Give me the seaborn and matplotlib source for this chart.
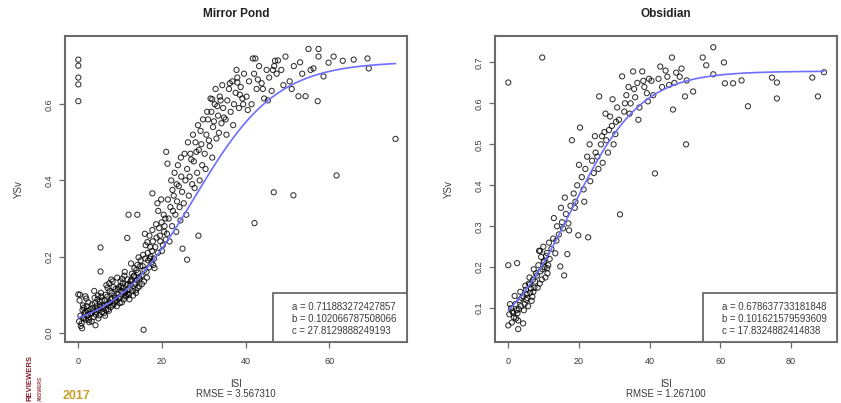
import numpy as np
import pandas as pd
import matplotlib
matplotlib.use("Agg")
import matplotlib.pyplot as plt
from matplotlib.patches import Rectangle
import seaborn as sns

# ---------------- data ----------------
# Mirror Pond: ISI vs YSv
mp_isi = [
    0.2, 0.5, 0.8, 1.0, 1.2, 1.5, 1.8, 2.0, 2.3, 2.6, 2.9, 0.3, 0.6, 1.1, 1.4, 1.7, 2.1, 2.4, 2.8, 0.9, 1.3, 1.9, 2.5, 0.4, 2.2,
    3.1, 3.4, 3.7, 4.0, 4.3, 4.6, 4.9, 5.2, 5.5, 5.8, 3.2, 3.6, 3.9, 4.2, 4.5, 4.8, 5.1, 5.4, 5.7, 3.3, 3.8, 4.4, 5.0, 5.6, 4.1, 4.7, 5.3,
    6.1, 6.3, 6.6, 6.9, 7.2, 7.5, 7.8, 8.1, 8.4, 8.7, 6.2, 6.5, 6.8, 7.1, 7.4, 7.7, 8.0, 8.3, 8.6, 8.9, 6.4, 7.0, 7.6, 8.2, 8.8, 6.7, 7.3, 7.9, 8.5,
    9.1, 9.4, 9.7, 10.0, 10.3, 10.6, 10.9, 11.2, 11.5, 11.8, 9.2, 9.5, 9.8, 10.1, 10.4, 10.7, 11.0, 11.3, 11.6, 11.9, 9.3, 9.9, 10.5, 11.1, 11.7, 9.6, 10.2, 10.8, 11.4,
    12.1, 12.4, 12.7, 13.0, 13.3, 13.6, 13.9, 14.2, 14.5, 14.8, 12.2, 12.5, 12.8, 13.1, 13.4, 13.7, 14.0, 14.3, 14.6, 14.9, 12.6, 13.2, 13.8, 14.4, 12.3, 13.5, 14.1, 14.7,
    15.1, 15.4, 15.7, 16.0, 16.3, 16.6, 16.9, 17.2, 17.5, 17.8, 15.2, 15.5, 15.8, 16.1, 16.4, 16.7, 17.0, 17.3, 17.6, 17.9, 15.9, 16.5, 17.1, 17.7,
    18.1, 18.4, 18.7, 19.0, 19.3, 19.6, 19.9, 20.2, 20.5, 20.8, 18.2, 18.6, 19.1, 19.5, 20.0, 20.4, 20.9, 18.9, 19.8, 20.6,
    21.2, 21.6, 22.0, 22.4, 22.8, 23.2, 23.6, 24.0, 24.4, 24.8, 21.4, 21.8, 22.2, 22.6, 23.0, 23.4, 23.8, 24.2, 24.6, 22.5, 23.5, 24.5,
    25.2, 25.6, 26.0, 26.4, 26.8, 27.2, 27.6, 28.0, 28.4, 28.8, 29.2, 29.6, 25.4, 25.8, 26.2, 26.6, 27.0, 27.4, 27.8, 28.2, 28.6, 29.0, 29.4, 29.8,
    30.2, 30.6, 31.0, 31.4, 31.8, 32.2, 32.6, 33.0, 33.4, 33.8, 34.2, 34.6, 30.4, 30.8, 31.2, 31.6, 32.0, 32.4, 32.8, 33.2, 33.6, 34.0, 34.4, 34.8,
    35.2, 35.6, 36.0, 36.4, 36.8, 37.2, 37.6, 38.0, 38.4, 38.8, 39.2, 39.6, 35.4, 36.2, 37.0, 37.8, 38.6, 39.4,
    40.2, 40.8, 41.4, 42.0, 42.6, 43.2, 43.8, 44.4, 45.0, 45.6, 46.2, 46.8, 47.4, 40.5, 41.7, 42.9, 44.1, 45.3, 46.5, 47.7,
    48.5, 49.5, 50.5, 51.5, 52.6, 53.5, 54.3, 55.0, 56.2, 57.2, 57.4, 58.6, 59.8, 49.0, 51.0, 53.0, 55.5,
    61.0, 63.2, 65.8, 69.1, 69.4, 57.4, 61.7, 75.8,
    0.0, 0.0, 0.0, 0.0, 0.0, 17.7, 21.0, 21.3, 32.0, 38.0, 42.3, 47.0, 46.7, 51.4, 42.1, 15.6, 14.1, 12.0, 5.3, 5.3,
    11.7, 24.9, 26.0, 28.7, 0.0, 1.7,
]
mp_ysv = [
    0.030, 0.045, 0.025, 0.060, 0.040, 0.052, 0.035, 0.070, 0.048, 0.028, 0.062, 0.085, 0.018, 0.072, 0.038, 0.055, 0.044, 0.080, 0.050, 0.012, 0.066, 0.090, 0.034, 0.100, 0.058,
    0.050, 0.065, 0.042, 0.078, 0.055, 0.088, 0.060, 0.072, 0.095, 0.064, 0.030, 0.058, 0.092, 0.048, 0.070, 0.038, 0.082, 0.105, 0.054, 0.075, 0.110, 0.062, 0.046, 0.085, 0.020, 0.098, 0.068,
    0.070, 0.085, 0.060, 0.095, 0.078, 0.110, 0.068, 0.090, 0.120, 0.082, 0.052, 0.100, 0.075, 0.062, 0.130, 0.088, 0.105, 0.072, 0.098, 0.115, 0.045, 0.118, 0.080, 0.135, 0.092, 0.125, 0.058, 0.140, 0.076,
    0.085, 0.100, 0.120, 0.095, 0.110, 0.130, 0.088, 0.105, 0.125, 0.140, 0.070, 0.115, 0.092, 0.135, 0.080, 0.118, 0.150, 0.098, 0.112, 0.128, 0.145, 0.078, 0.142, 0.160, 0.102, 0.090, 0.122, 0.108, 0.095,
    0.100, 0.125, 0.140, 0.110, 0.150, 0.128, 0.165, 0.118, 0.145, 0.175, 0.088, 0.135, 0.155, 0.098, 0.170, 0.112, 0.138, 0.158, 0.122, 0.190, 0.182, 0.148, 0.105, 0.198, 0.115, 0.132, 0.178, 0.142,
    0.150, 0.175, 0.135, 0.195, 0.160, 0.210, 0.172, 0.225, 0.185, 0.240, 0.128, 0.205, 0.165, 0.230, 0.145, 0.190, 0.255, 0.200, 0.215, 0.178, 0.260, 0.238, 0.195, 0.270,
    0.195, 0.225, 0.250, 0.210, 0.275, 0.240, 0.290, 0.230, 0.265, 0.300, 0.170, 0.285, 0.320, 0.255, 0.215, 0.310, 0.245, 0.340, 0.350, 0.280,
    0.260, 0.300, 0.330, 0.280, 0.360, 0.310, 0.345, 0.385, 0.295, 0.370, 0.350, 0.240, 0.400, 0.320, 0.420, 0.265, 0.440, 0.330, 0.410, 0.375, 0.390, 0.460,
    0.340, 0.400, 0.430, 0.360, 0.470, 0.390, 0.450, 0.500, 0.420, 0.480, 0.530, 0.440, 0.470, 0.310, 0.500, 0.410, 0.455, 0.520, 0.380, 0.475, 0.545, 0.400, 0.495, 0.560,
    0.470, 0.520, 0.560, 0.490, 0.580, 0.540, 0.600, 0.510, 0.570, 0.620, 0.550, 0.590, 0.430, 0.580, 0.505, 0.615, 0.460, 0.555, 0.640, 0.595, 0.525, 0.610, 0.650, 0.565,
    0.560, 0.610, 0.640, 0.580, 0.660, 0.600, 0.630, 0.670, 0.590, 0.645, 0.615, 0.680, 0.520, 0.655, 0.545, 0.690, 0.625, 0.600,
    0.620, 0.660, 0.600, 0.680, 0.640, 0.700, 0.655, 0.615, 0.690, 0.670, 0.635, 0.700, 0.680, 0.585, 0.720, 0.665, 0.640, 0.610, 0.690, 0.715,
    0.690, 0.725, 0.660, 0.700, 0.621, 0.680, 0.621, 0.745, 0.694, 0.608, 0.725, 0.673, 0.709, 0.650, 0.640, 0.710, 0.690,
    0.725, 0.714, 0.717, 0.720, 0.694, 0.745, 0.413, 0.509,
    0.717, 0.701, 0.670, 0.652, 0.608, 0.366, 0.475, 0.444, 0.613, 0.657, 0.720, 0.714, 0.369, 0.361, 0.288, 0.008, 0.310, 0.310, 0.224, 0.161,
    0.249, 0.221, 0.192, 0.255, 0.101, 0.096,
]

# Obsidian: ISI vs YSv
ob_isi = [
    0.3, 0.8, 1.2, 1.6, 2.0, 2.4, 2.8, 3.2, 3.6, 1.0, 1.8, 2.6, 3.4, 0.5, 2.2, 3.0, 3.8,
    4.2, 4.6, 5.0, 5.4, 5.8, 6.2, 6.6, 7.0, 7.4, 7.8, 4.4, 4.8, 5.2, 5.6, 6.0, 6.4, 6.8, 7.2, 7.6, 5.1, 6.1, 7.1,
    8.1, 8.5, 8.9, 9.3, 9.7, 10.1, 10.5, 10.9, 11.3, 11.7, 8.3, 8.7, 9.1, 9.5, 9.9, 10.3, 10.7, 11.1, 11.5, 9.0, 10.0, 11.0,
    12.2, 12.7, 13.3, 13.8, 14.3, 14.7, 15.2, 15.8, 16.3, 16.7, 17.2, 17.6, 12.9, 13.6, 14.9, 15.5, 16.0, 17.0,
    18.0, 18.5, 19.0, 19.5, 19.8, 20.3, 20.8, 21.3, 21.8, 22.3, 22.6, 23.2, 23.7, 24.2, 24.7, 18.8, 20.0, 21.5, 23.0, 24.5,
    25.2, 25.7, 26.2, 26.7, 27.2, 27.7, 28.2, 28.8, 29.3, 29.8, 30.3, 30.8, 31.3, 31.6, 25.5, 26.5, 27.5, 28.5, 29.5, 30.5,
    32.2, 32.8, 33.4, 34.0, 34.6, 35.3, 35.9, 36.5, 37.1, 37.9, 38.5, 39.2, 39.8, 33.0, 34.3, 35.6, 36.8, 38.2, 39.5,
    40.5, 41.5, 42.5, 43.5, 44.5, 45.5, 46.3, 46.6, 47.5, 48.5, 50.0, 50.3, 50.5, 52.3, 41.0, 43.0, 45.0, 47.0, 49.0,
    55.0, 56.0, 58.0, 58.0, 61.0, 61.3, 63.6, 66.0, 67.8, 74.6, 76.0, 76.0, 86.0, 87.6, 89.3,
    0.0, 2.8, 4.2, 1.4, 0.0, 2.5, 0.0, 9.6,
]
ob_ysv = [
    0.085, 0.100, 0.092, 0.078, 0.110, 0.095, 0.070, 0.120, 0.105, 0.065, 0.130, 0.088, 0.140, 0.110, 0.075, 0.098, 0.125,
    0.130, 0.110, 0.145, 0.125, 0.160, 0.138, 0.118, 0.170, 0.150, 0.185, 0.095, 0.155, 0.135, 0.105, 0.175, 0.148, 0.128, 0.195, 0.165, 0.120, 0.158, 0.140,
    0.180, 0.205, 0.160, 0.225, 0.195, 0.215, 0.175, 0.235, 0.205, 0.220, 0.150, 0.240, 0.190, 0.170, 0.250, 0.200, 0.228, 0.185, 0.260, 0.240, 0.212, 0.198,
    0.245, 0.270, 0.234, 0.300, 0.280, 0.202, 0.310, 0.180, 0.330, 0.232, 0.290, 0.350, 0.320, 0.265, 0.345, 0.295, 0.370, 0.307,
    0.510, 0.380, 0.360, 0.400, 0.278, 0.541, 0.420, 0.390, 0.440, 0.470, 0.273, 0.410, 0.460, 0.430, 0.480, 0.345, 0.450, 0.360, 0.500, 0.520,
    0.470, 0.617, 0.500, 0.455, 0.530, 0.510, 0.480, 0.568, 0.545, 0.500, 0.525, 0.590, 0.560, 0.329, 0.440, 0.520, 0.575, 0.535, 0.610, 0.555,
    0.666, 0.580, 0.620, 0.640, 0.600, 0.678, 0.615, 0.650, 0.590, 0.678, 0.640, 0.625, 0.660, 0.600, 0.575, 0.635, 0.560, 0.655, 0.605,
    0.655, 0.429, 0.660, 0.640, 0.680, 0.645, 0.712, 0.585, 0.675, 0.665, 0.617, 0.500, 0.656, 0.629, 0.620, 0.690, 0.665, 0.650, 0.685,
    0.712, 0.693, 0.737, 0.671, 0.700, 0.649, 0.649, 0.656, 0.593, 0.663, 0.651, 0.612, 0.663, 0.617, 0.676,
    0.058, 0.049, 0.063, 0.088, 0.205, 0.210, 0.651, 0.712,
]

# fitted logistic parameters a / (1 + exp(-b (x - c)))
mp_params = [0.711883272427857, 0.102066787508066, 27.8129888249193]
ob_params = [0.678637733181848, 0.101621579593609, 17.8324882414838]
mp_param_text = ["0.711883272427857", "0.102066787508066", "27.8129888249193"]
ob_param_text = ["0.678637733181848", "0.101621579593609", "17.8324882414838"]
mp_rmse = "3.567310"
ob_rmse = "1.267100"

mp_xticks = [0, 20, 40, 60]
mp_yticks = [0.0, 0.2, 0.4, 0.6]
ob_xticks = [0, 20, 40, 60, 80]
ob_yticks = [0.1, 0.2, 0.3, 0.4, 0.5, 0.6, 0.7]

# ---------------- style ----------------
sns.set_style("white")
plt.rcParams["font.family"] = ["Liberation Sans", "DejaVu Sans"]

W, H = 841, 403
fig = plt.figure(figsize=(W / 100, H / 100), dpi=100)
fig.patch.set_facecolor("white")

TEXT = "#3a3a3a"
FRAME = "#6a6a6a"
CURVE = "#6e6eff"


def panel(rect, isi, ysv, params, ptext, rmse, title, xticks, yticks, xlim, ylim, fmt):
    ax = fig.add_axes(rect)
    df = pd.DataFrame({"ISI": isi, "YSv": ysv})
    sns.scatterplot(data=df, x="ISI", y="YSv", ax=ax, marker="o", s=14,
                    facecolor="none", edgecolor="black", linewidth=0.75,
                    alpha=0.8, zorder=3)
    a, b, c = params
    xs = np.linspace(0, max(isi), 300)
    curve = pd.DataFrame({"ISI": xs, "YSv": a / (1 + np.exp(-b * (xs - c)))})
    sns.lineplot(data=curve, x="ISI", y="YSv", ax=ax, color=CURVE, lw=1.2, zorder=4)

    ax.set_xlim(*xlim)
    ax.set_ylim(*ylim)
    ax.set_xticks(xticks)
    ax.set_yticks(yticks)
    ax.set_xticklabels([str(t) for t in xticks])
    ax.set_yticklabels([fmt.format(t) for t in yticks])
    for sp in ax.spines.values():
        sp.set_visible(True)
        sp.set_color(FRAME)
        sp.set_linewidth(1.5)
    ax.tick_params(axis="both", which="major", direction="out", length=4.5,
                   width=0.9, color=FRAME, labelsize=6.5, labelcolor=TEXT,
                   bottom=True, left=True)
    ax.tick_params(axis="x", pad=6)
    ax.tick_params(axis="y", pad=4)
    for lab in ax.get_yticklabels():
        lab.set_rotation(90)
        lab.set_va("center")
        lab.set_ha("right")

    ax.set_xlabel("ISI\nRMSE = " + rmse, fontsize=7, color=TEXT, linespacing=1.05)
    ax.xaxis.set_label_coords(0.5, -0.12)
    ax.set_ylabel("YSv", fontsize=7, color=TEXT)
    ax.yaxis.set_label_coords(-0.12, 0.5)
    ax.text(0.5, 1.072, title, transform=ax.transAxes, ha="center", va="center",
            fontsize=8.5, fontweight="bold", color="#222222")

    # parameter box in the bottom-right corner
    ax.add_patch(Rectangle((0.608, 0.0), 0.392, 0.16, transform=ax.transAxes,
                           facecolor="white", edgecolor=FRAME, linewidth=1.3,
                           zorder=5))
    for yy, name, val in zip([0.114, 0.075, 0.036], ["a", "b", "c"], ptext):
        ax.text(0.664, yy, f"{name} = {val}", transform=ax.transAxes,
                ha="left", va="center", fontsize=6.9, color=TEXT, zorder=6)
    return ax


bottom = 1 - 342 / H
height = 306 / H
panel([65 / W, bottom, 342 / W, height], mp_isi, mp_ysv, mp_params, mp_param_text,
      mp_rmse, "Mirror Pond", mp_xticks, mp_yticks, (-3.18, 78.54), (-0.024, 0.779),
      "{:.1f}")
panel([495 / W, bottom, 342 / W, height], ob_isi, ob_ysv, ob_params, ob_param_text,
      ob_rmse, "Obsidian", ob_xticks, ob_yticks, (-3.76, 93.0), (0.0175, 0.7645),
      "{:.1f}")

# conference badge in the lower-left corner
fig.text(30 / W, 2 / H, "REVIEWERS", rotation=90, color="#8c1c2c", fontsize=5.5,
         fontweight="bold", ha="center", va="bottom")
fig.text(40 / W, 2 / H, "ANSWERS", rotation=90, color="#a33a48", fontsize=3.5,
         fontweight="bold", ha="center", va="bottom")
fig.text(63 / W, 1 / H, "2017", color="#c9a02a", fontsize=9,
         fontweight="bold", ha="left", va="bottom")

fig.savefig("out.png", dpi=100, facecolor="white")
